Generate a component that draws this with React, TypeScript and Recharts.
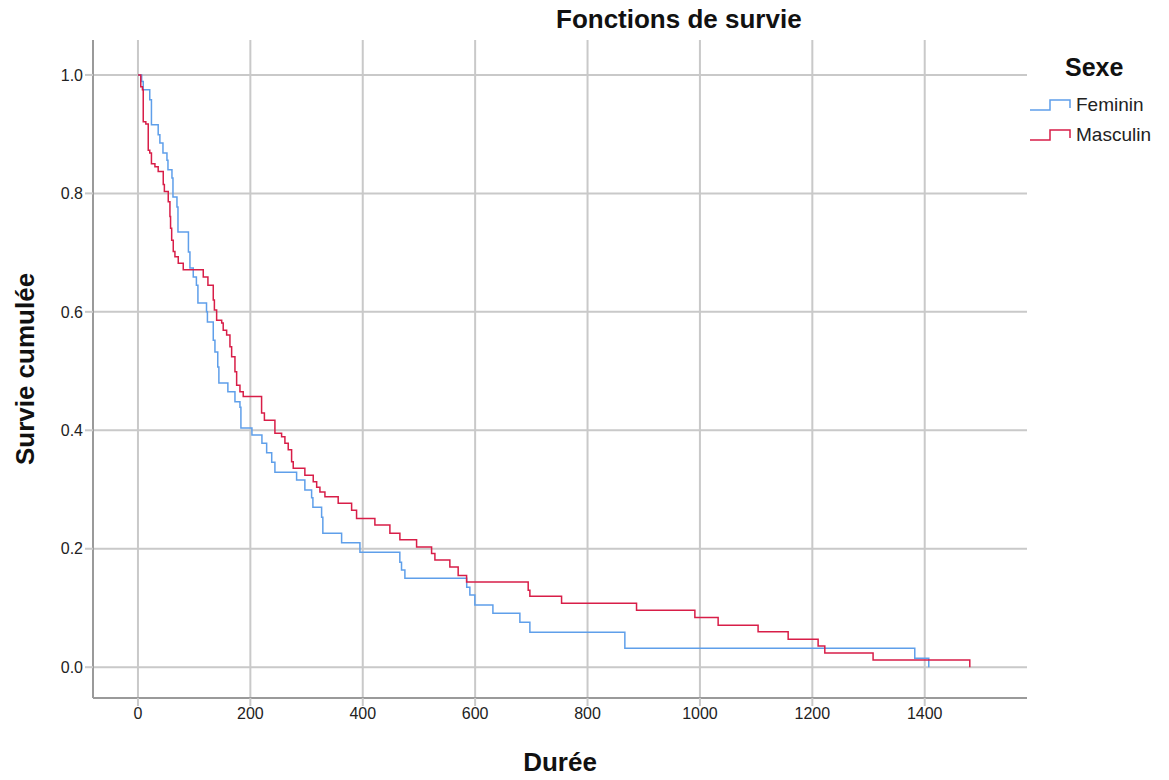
import React from 'react';
import {
  LineChart,
  Line,
  XAxis,
  YAxis,
  CartesianGrid,
} from 'recharts';

// Feminin : temps et survie cumulée (lecture du graphique)
const femTimes = [
  0, 6.6, 9.4, 21, 24, 36, 39, 44.5, 51.6, 53.4, 60.5, 62.3, 69.4, 71.2, 89.8, 92.5,
  98.4, 104, 106.7, 122, 123.6, 134, 137, 142, 144, 160, 172.6, 181.5, 183.2, 202.8,
  220.6, 229, 238, 243.7, 282.3, 297, 309, 311.3, 326.8, 329, 362.4, 395, 466, 469,
  475, 585, 590.6, 599.5, 631.6, 679.6, 697.4, 866.4, 1382.3, 1407.2,
];
const femSurv = [
  1.0, 0.989, 0.975, 0.958, 0.916, 0.899, 0.885, 0.868, 0.856, 0.84, 0.826, 0.794, 0.777, 0.735, 0.701, 0.674,
  0.659, 0.645, 0.615, 0.6, 0.583, 0.552, 0.532, 0.507, 0.48, 0.465, 0.448, 0.439, 0.404, 0.392,
  0.378, 0.362, 0.346, 0.329, 0.316, 0.299, 0.286, 0.27, 0.253, 0.226, 0.21, 0.194, 0.177, 0.164,
  0.15, 0.135, 0.122, 0.105, 0.091, 0.076, 0.059, 0.032, 0.015, 0,
];

// Masculin
const mascTimes = [
  0, 5, 8, 9.4, 14, 18.3, 21, 24, 30.2, 36, 45, 47, 53.9, 56.9, 58, 60, 62.8, 65.8,
  71.7, 80.6, 116.2, 124.5, 134, 136, 140, 149, 151.7, 157.8, 163.7, 166.7, 172.6,
  175.6, 181.5, 187.3, 220, 225, 243.7, 255.6, 261.5, 267.4, 273.4, 276.3, 297,
  311.9, 318, 323.8, 332.7, 356.3, 380.2, 389, 421.6, 448.3, 466.1, 495.8, 522.5,
  528.4, 555, 569.8, 584.8, 694.4, 697.4, 753.8, 887.2, 991, 1032.4, 1103.5, 1157,
  1210.3, 1222.2, 1308.1, 1480.2,
];
const mascSurv = [
  1.0, 0.98, 0.975, 0.921, 0.917, 0.873, 0.868, 0.85, 0.845, 0.837, 0.815, 0.803, 0.786, 0.761, 0.741, 0.721, 0.702, 0.693,
  0.682, 0.671, 0.659, 0.645, 0.62, 0.603, 0.586, 0.581, 0.569, 0.561, 0.541, 0.524, 0.499,
  0.476, 0.465, 0.457, 0.429, 0.417, 0.395, 0.389, 0.378, 0.367, 0.347, 0.336, 0.324,
  0.313, 0.304, 0.296, 0.288, 0.277, 0.265, 0.251, 0.24, 0.226, 0.215, 0.203, 0.192,
  0.181, 0.169, 0.155, 0.144, 0.13, 0.12, 0.108, 0.096, 0.084, 0.071, 0.06, 0.047,
  0.036, 0.024, 0.012, 0,
];

const xTicks = [0, 200, 400, 600, 800, 1000, 1200, 1400];
const yTicks = [0, 0.2, 0.4, 0.6, 0.8, 1.0];

const groups = [
  { name: 'Feminin', color: '#5f9fea' },
  { name: 'Masculin', color: '#d81e48' },
];

const toRows = (times: number[], surv: number[]) =>
  times.map((t, i) => ({ t, s: surv[i] }));

const fontFamily = '"Liberation Sans", Arial, sans-serif';

// légende à la SPSS, posée à droite du graphique
function SexeLegend() {
  return (
    <div style={{ position: 'absolute', left: 1028, top: 48, fontFamily }}>
      <div style={{ fontWeight: 'bold', fontSize: 25, marginLeft: 37, height: 42, lineHeight: '38px', color: '#111' }}>
        Sexe
      </div>
      {groups.map((g) => (
        <div key={g.name} style={{ display: 'flex', alignItems: 'center', height: 30 }}>
          <svg width={48} height={20}>
            <polyline
              points="2,15 22,15 22,5 42,5 42,13"
              fill="none"
              stroke={g.color}
              strokeWidth={1.5}
            />
          </svg>
          <span style={{ fontSize: 19, color: '#222' }}>{g.name}</span>
        </div>
      ))}
    </div>
  );
}

export default function App() {
  const fem = toRows(femTimes, femSurv);
  const masc = toRows(mascTimes, mascSurv);

  return (
    <div style={{ margin: -8, position: 'relative', width: 1169, height: 780, fontFamily }}>
      <div
        style={{
          position: 'absolute',
          top: 4,
          left: 556,
          fontWeight: 'bold',
          fontSize: 26,
          color: '#111',
          whiteSpace: 'nowrap',
        }}
      >
        Fonctions de survie
      </div>
      <SexeLegend />
      <LineChart
        width={1169}
        height={780}
        margin={{ top: 40, right: 142, bottom: 52, left: 33 }}
        style={{ fontFamily }}
      >
        <CartesianGrid
          stroke="#c9c9c9"
          strokeWidth={2}
          horizontalValues={yTicks}
          verticalValues={xTicks}
        />
        <XAxis
          type="number"
          dataKey="t"
          domain={[-80, 1582]}
          ticks={xTicks}
          allowDataOverflow
          height={30}
          stroke="#9a9a9a"
          strokeWidth={2}
          tickLine={{ stroke: '#c9c9c9', strokeWidth: 2 }}
          tickSize={8}
          tick={{ fill: '#222', fontSize: 16 }}
          label={{
            value: 'Durée',
            position: 'bottom',
            offset: 25,
            style: { fontWeight: 'bold', fontSize: 26, fill: '#111' },
          }}
        />
        <YAxis
          type="number"
          domain={[-0.052, 1.059]}
          ticks={yTicks}
          allowDataOverflow
          width={60}
          stroke="#9a9a9a"
          strokeWidth={2}
          tickLine={{ stroke: '#c9c9c9', strokeWidth: 2 }}
          tickSize={8}
          tickFormatter={(v: number) => v.toFixed(1)}
          tick={{ fill: '#222', fontSize: 16 }}
          label={{
            value: 'Survie cumulée',
            angle: -90,
            position: 'left',
            offset: 8,
            style: { fontWeight: 'bold', fontSize: 26, fill: '#111', textAnchor: 'middle' },
          }}
        />
        <Line
          data={fem}
          dataKey="s"
          name="Feminin"
          type="stepAfter"
          stroke={groups[0].color}
          strokeWidth={1.5}
          dot={false}
          isAnimationActive={false}
        />
        <Line
          data={masc}
          dataKey="s"
          name="Masculin"
          type="stepAfter"
          stroke={groups[1].color}
          strokeWidth={1.5}
          dot={false}
          isAnimationActive={false}
        />
      </LineChart>
    </div>
  );
}
